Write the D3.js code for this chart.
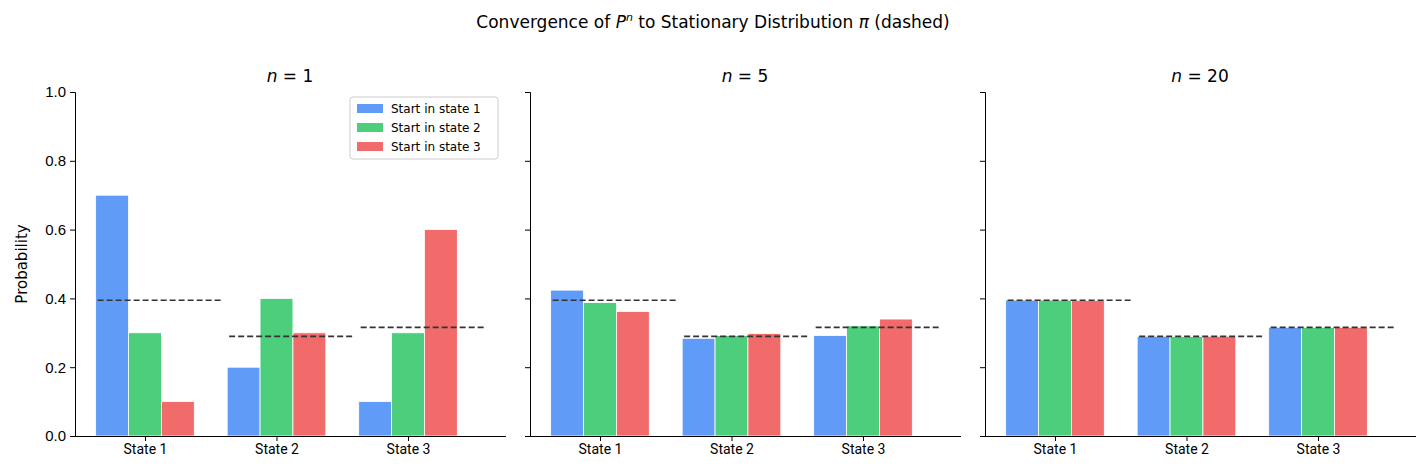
<!DOCTYPE html>
<html><head><meta charset="utf-8">
<script src="https://cdn.jsdelivr.net/npm/d3@7"></script>
<style>body{margin:0;background:#fff;font-family:"DejaVu Sans",sans-serif}</style>
</head><body><svg id="chart" width="1427" height="475"></svg>
<script>
// data
var states = ["State 1", "State 2", "State 3"]
var starts = ["Start in state 1", "Start in state 2", "Start in state 3"]
var panelTitles = ["1", "5", "20"]
var pi = [0.3947, 0.2895, 0.3158]
// rows = start state, cols = destination state
var p1 = [[0.7, 0.2, 0.1], [0.3, 0.4, 0.3], [0.1, 0.3, 0.6]]
var p5 = [[0.424, 0.284, 0.292], [0.388, 0.292, 0.320], [0.362, 0.298, 0.340]]
var p20 = [[0.395, 0.290, 0.316], [0.395, 0.289, 0.316], [0.394, 0.290, 0.316]]
var yTicks = [0, 0.2, 0.4, 0.6, 0.8, 1.0]
var colors = ["#609cf7", "#4cce7c", "#f26b6b"]

var svg = d3.select("#chart")
svg.append("text").attr("x", 713).attr("y", 28).attr("text-anchor", "middle")
    .style("font-size", "17px").html('Convergence of <tspan font-style="italic">P</tspan><tspan font-style="italic" font-size="11" dy="-7">n</tspan><tspan dy="7"> to Stationary Distribution </tspan><tspan font-style="italic">π</tspan> (dashed)')

var y = d3.scaleLinear().domain([0, 1]).range([436, 92])
var lefts = [75, 530, 985]
var mats = [p1, p5, p20]

mats.forEach(function(m, k) {
    var x = d3.scaleLinear().domain([-0.532, 2.745]).range([lefts[k], lefts[k] + 431])
    var g = svg.append("g")
    var bw = x(0.25) - x(0)

    m.forEach(function(row, s) {
        g.selectAll(null).data(row).enter().append("rect")
            .attr("x", function(d, j) { return x(j + (s - 1) * 0.25) - bw / 2 })
            .attr("y", function(d) { return y(d) })
            .attr("width", bw).attr("height", function(d) { return y(0) - y(d) })
            .attr("fill", colors[s]).attr("stroke", "#fff").attr("stroke-width", 0.8)
    })
    g.selectAll(null).data(pi).enter().append("line")
        .attr("x1", function(d, j) { return x(j - 0.36) })
        .attr("x2", function(d, j) { return x(j + 0.585) })
        .attr("y1", function(d) { return y(d) }).attr("y2", function(d) { return y(d) })
        .attr("stroke", "#333").attr("stroke-width", 1.6).attr("stroke-dasharray", "6,3")

    var yAxis = d3.axisLeft(y).tickValues(yTicks).tickSize(5).tickPadding(4)
        .tickFormat(k == 0 ? d3.format(".1f") : "")
    g.append("g").attr("transform", "translate(" + lefts[k] + ",0)").call(yAxis)
        .call(function(a) { a.selectAll("text").style("font-size", "15px").attr("fill", "#000") })
    var xAxis = d3.axisBottom(x).tickValues([0, 1, 2]).tickSize(5)
        .tickFormat(function(d) { return states[d] })
    g.append("g").attr("transform", "translate(0,436)").call(xAxis)
        .call(function(a) {
            a.select(".domain").attr("d", "M" + lefts[k] + ",0.5H" + (lefts[k] + 431))
            a.selectAll("text").style("font-size", "14px").style("font-family", "Roboto, sans-serif").attr("fill", "#000")
        })
    svg.append("text").attr("x", lefts[k] + 215).attr("y", 82).attr("text-anchor", "middle")
        .style("font-size", "17px")
        .html('<tspan font-style="italic">n</tspan> = ' + panelTitles[k])
})

svg.append("text").attr("transform", "translate(27,264) rotate(-90)")
    .attr("text-anchor", "middle").style("font-size", "15px").text("Probability")

// legend
var lg = svg.append("g").attr("transform", "translate(350,97)")
lg.append("rect").attr("width", 148).attr("height", 62).attr("rx", 3)
    .attr("fill", "#fff").attr("stroke", "#ccc")
starts.forEach(function(s, i) {
    lg.append("rect").attr("x", 7).attr("y", 7 + i * 19).attr("width", 26).attr("height", 9).attr("fill", colors[i])
    lg.append("text").attr("x", 41).attr("y", 16 + i * 19).style("font-size", "12px").text(s)
})
</script></body></html>
